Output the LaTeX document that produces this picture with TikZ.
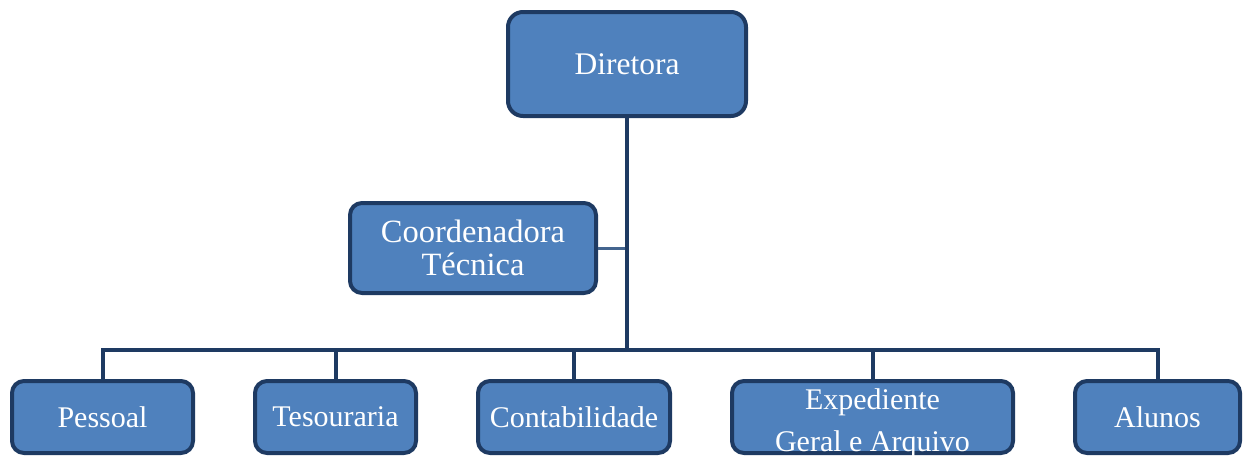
\documentclass[tikz,border=0pt]{standalone}
\usepackage{fontspec}
\setmainfont{Liberation Serif}
\definecolor{boxfill}{HTML}{4F81BD}
\definecolor{boxline}{HTML}{1E3A62}
\definecolor{thinline}{HTML}{44658F}
\begin{document}
\begin{tikzpicture}[x=1pt,y=-1pt,
  orgbox/.style={draw=boxline,line width=4pt,fill=boxfill,rounded corners=12pt,
    text=white,align=center,inner sep=0pt,font=\fontsize{30}{42}\selectfont},
  conn/.style={draw=boxline,line width=4pt,line join=miter},
  thinconn/.style={draw=thinline,line width=3pt}]
\useasboundingbox (0,0) rectangle (1247,458);
\node[orgbox,minimum width=238pt,minimum height=104pt,rounded corners=15pt,
  font=\fontsize{31.5}{36}\selectfont] (dir) at (627,64) {Diretora};
\node[orgbox,minimum width=246pt,minimum height=90pt,
  font=\fontsize{32.5}{33}\selectfont] (coord) at (473,248) {Coordenadora\\Técnica};
\node[orgbox,minimum width=181pt,minimum height=72pt] (pes) at (102.5,417) {Pessoal};
\node[orgbox,minimum width=161pt,minimum height=72pt] (tes) at (335.5,417) {Tesouraria};
\node[orgbox,minimum width=192pt,minimum height=72pt] (con) at (574,417) {Contabilidade};
\node[orgbox,minimum width=281pt,minimum height=72pt] (exp) at (872.5,417)
  {\raisebox{-11.5pt}[0pt][0pt]{\begin{tabular}{@{}c@{}}Expediente\\Geral e Arquivo\end{tabular}}};
\node[orgbox,minimum width=165pt,minimum height=72pt] (alu) at (1157.5,417) {Alunos};
\coordinate (bus) at (dir.south |- 0,350);
\draw[thinconn] (coord.east) -- (coord.east -| dir.south);
\draw[conn] (dir.south) -- (bus);
\draw[conn] (pes.north) |- (bus);
\draw[conn] (tes.north) |- (bus);
\draw[conn] (con.north) |- (bus);
\draw[conn] (exp.north) |- (bus);
\draw[conn] (alu.north) |- (bus);
\end{tikzpicture}
\end{document}
